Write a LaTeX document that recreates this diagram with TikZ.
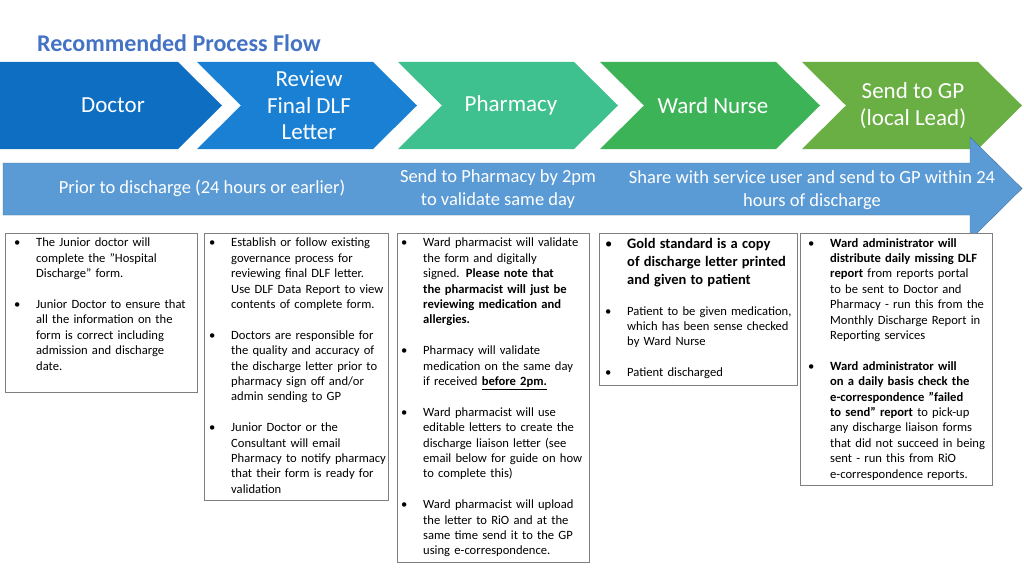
\documentclass[tikz,border=0pt]{standalone}
\usepackage{fontspec}
\setmainfont{Carlito}
\usetikzlibrary{positioning}

\definecolor{titleblue}{HTML}{4472C4}
\definecolor{chevA}{HTML}{0E6EC2}
\definecolor{chevB}{HTML}{1A80D4}
\definecolor{chevC}{HTML}{3EC08F}
\definecolor{chevD}{HTML}{3CB357}
\definecolor{chevE}{HTML}{6AAF43}
\definecolor{bandblue}{HTML}{5B9BD5}
\definecolor{bandedge}{HTML}{41719C}
\definecolor{boxedge}{HTML}{7F7F7F}

% bullet paragraph
\newcommand{\blt}[1]{\hyphenpenalty=10000 \exhyphenpenalty=10000 \hangindent=22pt\hangafter=1\noindent\makebox[22pt][l]{\textbullet}#1\par}
\newcommand{\gap}{\vspace{15.4pt}}

\tikzset{
  chevron/.style={white, font=\fontsize{23}{26.5}\selectfont, align=center},
  infobox/.style={draw=boxedge, thick, fill=white, anchor=north west, inner sep=0pt},
  infotext/.style={anchor=north west, inner sep=0pt, align=left,
    font=\fontsize{12.6}{15.4}\selectfont},
  bandtext/.style={white, font=\fontsize{18.5}{23}\selectfont, align=center}
}

\begin{document}
\begin{tikzpicture}[x=1pt,y=-1pt]
\useasboundingbox (0,0) rectangle (1024,575);

% Title
\node[anchor=west, text=titleblue, font=\fontsize{24}{28}\selectfont\bfseries, inner sep=0pt] (title) at (37,43) {Recommended Process Flow};

% Chevrons
\fill[chevA] (0,62) -- (178,62) -- (222,105.5) -- (178,149) -- (0,149) -- cycle;
\foreach \x/\col in {197/chevB, 398/chevC, 600/chevD, 802/chevE}
  \fill[\col] (\x,62) -- (\x+176,62) -- (\x+220,105.5) -- (\x+176,149) -- (\x,149) -- (\x+44,105.5) -- cycle;
\node[chevron] (doctor) at (113,105.5) {Doctor};
\node[chevron] (review) at (309,105.5) {Review\\Final DLF\\Letter};
\node[chevron] (pharmacy) at (511,105.5) {Pharmacy};
\node[chevron] (nurse) at (713,105.5) {Ward Nurse};
\node[chevron] (gp) at (913,105.5) {Send to GP\\(local Lead)};

% Band arrow
\draw[fill=bandblue, draw=bandedge] (3,163) -- (970,163) -- (970,137) -- (1022,188.5) -- (970,240) -- (970,215) -- (3,215) -- cycle;
\node[bandtext] (prior) at (202,188.5) {Prior to discharge (24 hours or earlier)};
\node[bandtext] (bypm) at (498,189) {Send to Pharmacy by 2pm\\to validate same day};
\node[bandtext] (share) at (812,190) {Share with service user and send to GP within 24\\hours of discharge};

% Boxes
\node[infobox, minimum width=192pt, minimum height=159pt] (boxA) at (5,233) {};
\node[infobox, minimum width=184pt, minimum height=267pt] (boxB) at (204,233) {};
\node[infobox, minimum width=192pt, minimum height=329pt] (boxC) at (397,233) {};
\node[infobox, minimum width=198pt, minimum height=152pt] (boxD) at (599,233) {};
\node[infobox, minimum width=192pt, minimum height=252pt] (boxE) at (800,233) {};

\node[infotext, text width=180pt] (txtA) at ([xshift=9pt,yshift=-5pt]boxA.north west) {%
\blt{The Junior doctor will complete the "Hospital Discharge" form.}\gap
\blt{Junior Doctor to ensure that all the information on the form is correct including admission and discharge date.}};

\node[infotext, text width=178pt] (txtB) at ([xshift=5pt,yshift=-5pt]boxB.north west) {%
\blt{Establish or follow existing governance process for reviewing final DLF letter. Use DLF Data Report to view contents of complete form.}\gap
\blt{Doctors are responsible for the quality and accuracy of the discharge letter prior to pharmacy sign off and/or admin sending to GP}\gap
\blt{Junior Doctor or the Consultant will email Pharmacy to notify pharmacy that their form is ready for validation}};

\node[infotext, text width=186pt] (txtC) at ([xshift=4pt,yshift=-5pt]boxC.north west) {%
\blt{Ward pharmacist will validate the form and digitally signed. \textbf{Please note that the pharmacist will just be reviewing medication and allergies.}}\gap
\blt{Pharmacy will validate medication on the same day if received \underline{\textbf{before 2pm.}}}\gap
\blt{Ward pharmacist will use editable letters to create the discharge liaison letter (see email below for guide on how to complete this)}\gap
\blt{Ward pharmacist will upload the letter to RiO and at the same time send it to the GP using e-correspondence.}};

\node[infotext, text width=190pt] (txtD) at ([xshift=6pt,yshift=-5pt]boxD.north west) {%
{\fontsize{14.5}{18}\selectfont\blt{\textbf{Gold standard is a copy of discharge letter printed and given to patient}}}\gap
\blt{Patient to be given medication, which has been sense checked by Ward Nurse}\gap
\blt{Patient discharged}};

\node[infotext, text width=186pt] (txtE) at ([xshift=8pt,yshift=-5pt]boxE.north west) {%
\blt{\textbf{Ward administrator will distribute daily missing DLF report} from reports portal to be sent to Doctor and Pharmacy - run this from the Monthly Discharge Report in Reporting services}\gap
\blt{\textbf{Ward administrator will on a daily basis check the e-correspondence "failed to send" report} to pick-up any discharge liaison forms that did not succeed in being sent - run this from RiO e-correspondence reports.}};
\end{tikzpicture}
\end{document}
